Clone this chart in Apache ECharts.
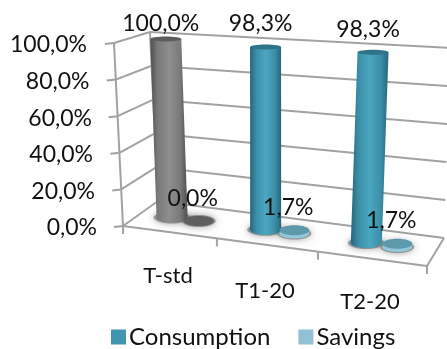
<!DOCTYPE html>
<html>
<head>
<meta charset="utf-8">
<style>html,body{margin:0;padding:0;background:#fff}#chart{width:447px;height:349px}</style>
<script src="https://cdn.jsdelivr.net/npm/echarts@6/dist/echarts.min.js"></script>
</head>
<body>
<div id="chart"></div>
<script>
// Data
const categories = ['T-std', 'T1-20', 'T2-20'];
const consumption = [100, 98.3, 98.3];
const savings = [0, 1.7, 1.7];
const gridLevels = [0, 20, 40, 60, 80, 100];

// Room corners of the pseudo-3D box (front/back, bottom/top, left/right)
const room = {
  fbl: [123, 226], fbr: [427, 266], bbl: [158, 201], bbr: [444, 238],
  ftl: [114, 43], ftr: [444, 57], btl: [150, 32], btr: [450, 48]
};
const foreshorten = 0.894;
const mix = (a, b, t) => [a[0] + (b[0] - a[0]) * t, a[1] + (b[1] - a[1]) * t];

// Maps horizontal share u, height share v and depth share d onto the canvas
function project(u, v, d) {
  const w = foreshorten * u / (1 + (foreshorten - 1) * u);
  const front = mix(mix(room.fbl, room.fbr, w), mix(room.ftl, room.ftr, w), v);
  const back = mix(mix(room.bbl, room.bbr, w), mix(room.btl, room.btr, w), v);
  return mix(front, back, d);
}

const fmt = (x) => x.toFixed(1).replace('.', ',') + '%';
const FONT = 'Lato';
const SIZE = 23;
const hStops = (edge, side, mid) => ({
  type: 'linear', x: 0, y: 0, x2: 1, y2: 0,
  colorStops: [
    { offset: 0, color: edge }, { offset: 0.2, color: side },
    { offset: 0.5, color: mid }, { offset: 0.8, color: side }, { offset: 1, color: edge }
  ]
});
const haloStyle = { fill: 'rgba(125,125,125,0.75)', shadowBlur: 7, shadowColor: 'rgba(120,120,120,0.9)' };
const barPalette = [
  { edge: '#4e4e4e', side: '#7a7a7a', mid: '#8e8e8e', cap: '#5c5c5c' },
  { edge: '#27657a', side: '#3c8ea8', mid: '#4ba7c1', cap: '#2e7388' },
  { edge: '#27657a', side: '#3c8ea8', mid: '#4ba7c1', cap: '#2e7388' }
];
const discPalette = [
  { top: '#5f5f5f', rim: '#6e6e6e' },
  { top: '#5e98ab', rim: '#93c8da' },
  { top: '#5e98ab', rim: '#93c8da' }
];

function shares(params, api) {
  const cs = params.coordSys;
  const idx = api.value(0);
  const val = api.value(1);
  const p = api.coord([idx, val]);
  const base = api.coord([idx, 0]);
  return { cs, idx, val, u: (p[0] - cs.x) / cs.width, v: (base[1] - p[1]) / cs.height, band: api.size([1, 0])[0] / cs.width };
}
const lineEl = (a, b, w) => ({
  type: 'line', z2: -1, silent: true,
  shape: { x1: a[0], y1: a[1], x2: b[0], y2: b[1] },
  style: { stroke: '#a2a2a2', lineWidth: w || 2 }
});
const labelEl = (x, y, text) => ({
  type: 'text', z2: 5, silent: true,
  style: { x, y, text, fill: '#111', fontFamily: FONT, fontSize: SIZE, align: 'center', verticalAlign: 'middle' }
});

// Walls, gridlines, ticks and floor edges
function renderFrame(params, api) {
  const s = shares(params, api);
  const v = s.v;
  const front = project(0, v, 0);
  const back = project(0, v, 1);
  const kids = [
    lineEl(front, back),
    lineEl(back, project(1, v, 1)),
    lineEl(front, [front[0] - 9, front[1] + 1])
  ];
  if (s.val === 0) {
    kids.push(lineEl(front, project(0, 1, 0)));
    kids.push(lineEl(back, project(0, 1, 1)));
    kids.push(lineEl(front, project(1, 0, 0)));
    kids.push(lineEl(project(1, 0, 0), project(1, 0, 1)));
    for (let i = 0; i <= categories.length; i++) {
      const t = project(i / categories.length, 0, 0);
      kids.push(lineEl(t, [t[0], t[1] + 8]));
    }
  }
  return { type: 'group', children: kids };
}

// Tall cylinder for the consumption share
function renderCylinder(params, api) {
  const s = shares(params, api);
  const u = s.u - 0.145 * s.band;
  const top = project(u, s.v, 0.5);
  const foot = project(u, 0, 0.5);
  const rx = 15.5, ryTop = 2.5, ryFoot = 5;
  const pal = barPalette[s.idx];
  const body = [[top[0] - rx, top[1]], [top[0] + rx, top[1]]];
  for (let i = 0; i <= 16; i++) {
    const a = Math.PI * i / 16;
    body.push([foot[0] + rx * Math.cos(a), foot[1] + ryFoot * Math.sin(a)]);
  }
  return {
    type: 'group',
    children: [
      { type: 'ellipse', z2: 0, silent: true, shape: { cx: foot[0], cy: foot[1], rx: rx + 3, ry: ryFoot + 1 }, style: haloStyle },
      { type: 'polygon', z2: 1, silent: true, shape: { points: body }, style: { fill: hStops(pal.edge, pal.side, pal.mid) } },
      { type: 'ellipse', z2: 2, silent: true, shape: { cx: top[0], cy: top[1], rx, ry: ryTop }, style: { fill: pal.cap } },
      labelEl(top[0] - 5, Math.max(24, top[1] - 23), fmt(s.val))
    ]
  };
}

// Shallow disc for the savings share
function renderDisc(params, api) {
  const s = shares(params, api);
  const u = s.u + 0.147 * s.band;
  const top = project(u, s.v, 0.5);
  const foot = project(u, 0, 0.5);
  const rx = 15, ry = 5;
  const pal = discPalette[s.idx];
  return {
    type: 'group',
    children: [
      { type: 'ellipse', z2: 0, silent: true, shape: { cx: foot[0], cy: foot[1], rx: rx + 2, ry: ry + 1 }, style: haloStyle },
      { type: 'ellipse', z2: 3, silent: true, shape: { cx: foot[0], cy: foot[1], rx, ry }, style: { fill: pal.rim } },
      { type: 'ellipse', z2: 4, silent: true, shape: { cx: top[0], cy: top[1], rx, ry }, style: { fill: pal.top } },
      labelEl(top[0] - 6, top[1] - 23, fmt(s.val))
    ]
  };
}

const toRows = (values) => values.map((v, i) => [i, v]);
// Right-hand inset of each value label, following the slant of the left wall
const yInset = { 0: 0, 20: 2, 40: 4, 60: 5, 80: 7.5, 100: 10 };
const yRich = {};
gridLevels.forEach((g) => {
  yRich['t' + g] = { fontFamily: FONT, fontSize: SIZE, color: '#111', padding: [4, yInset[g], 0, 0] };
});
// Offsets of each category label, following the slant of the floor edge
const xDrop = [0, 15, 26];
const xShift = [-1.5, -3.5, 2.5];
const xRich = {};
categories.forEach((c, i) => {
  const d = xShift[i] * 2;
  xRich['c' + i] = {
    fontFamily: FONT, fontSize: 22, color: '#111',
    padding: [xDrop[i], d < 0 ? -d : 0, 0, d > 0 ? d : 0]
  };
});

const chart = echarts.init(document.getElementById('chart'), null, { renderer: 'canvas' });
chart.setOption({
  animation: false,
  backgroundColor: '#fff',
  grid: { left: 120, top: 43, width: 297, height: 183, containLabel: false },
  legend: {
    data: ['Consumption', 'Savings'],
    left: 106, top: 320,
    icon: 'rect', itemWidth: 15, itemHeight: 15, itemGap: 28,
    selectedMode: false,
    textStyle: { fontFamily: FONT, fontSize: 24, color: '#111', padding: [0, 0, 0, -2] }
  },
  tooltip: { show: false },
  xAxis: {
    type: 'category', data: categories,
    axisLine: { show: false }, axisTick: { show: false },
    axisLabel: {
      margin: 39, verticalAlign: 'top', interval: 0,
      formatter: (v) => '{c' + categories.indexOf(v) + '|' + v + '}',
      rich: xRich
    }
  },
  yAxis: {
    type: 'value', min: 0, max: 100, interval: 20,
    axisLine: { show: false }, axisTick: { show: false }, splitLine: { show: false },
    axisLabel: {
      margin: 23,
      formatter: (v) => '{t' + v + '|' + fmt(v) + '}',
      rich: yRich
    }
  },
  series: [
    { type: 'custom', name: 'Frame', renderItem: renderFrame, data: gridLevels.map((g) => [0, g]), silent: true, clip: false },
    { type: 'custom', name: 'Consumption', renderItem: renderCylinder, data: toRows(consumption), itemStyle: { color: '#4295ae' }, silent: true, clip: false },
    { type: 'custom', name: 'Savings', renderItem: renderDisc, data: toRows(savings), itemStyle: { color: '#8fc0d4' }, silent: true, clip: false }
  ]
});
</script>
</body>
</html>
